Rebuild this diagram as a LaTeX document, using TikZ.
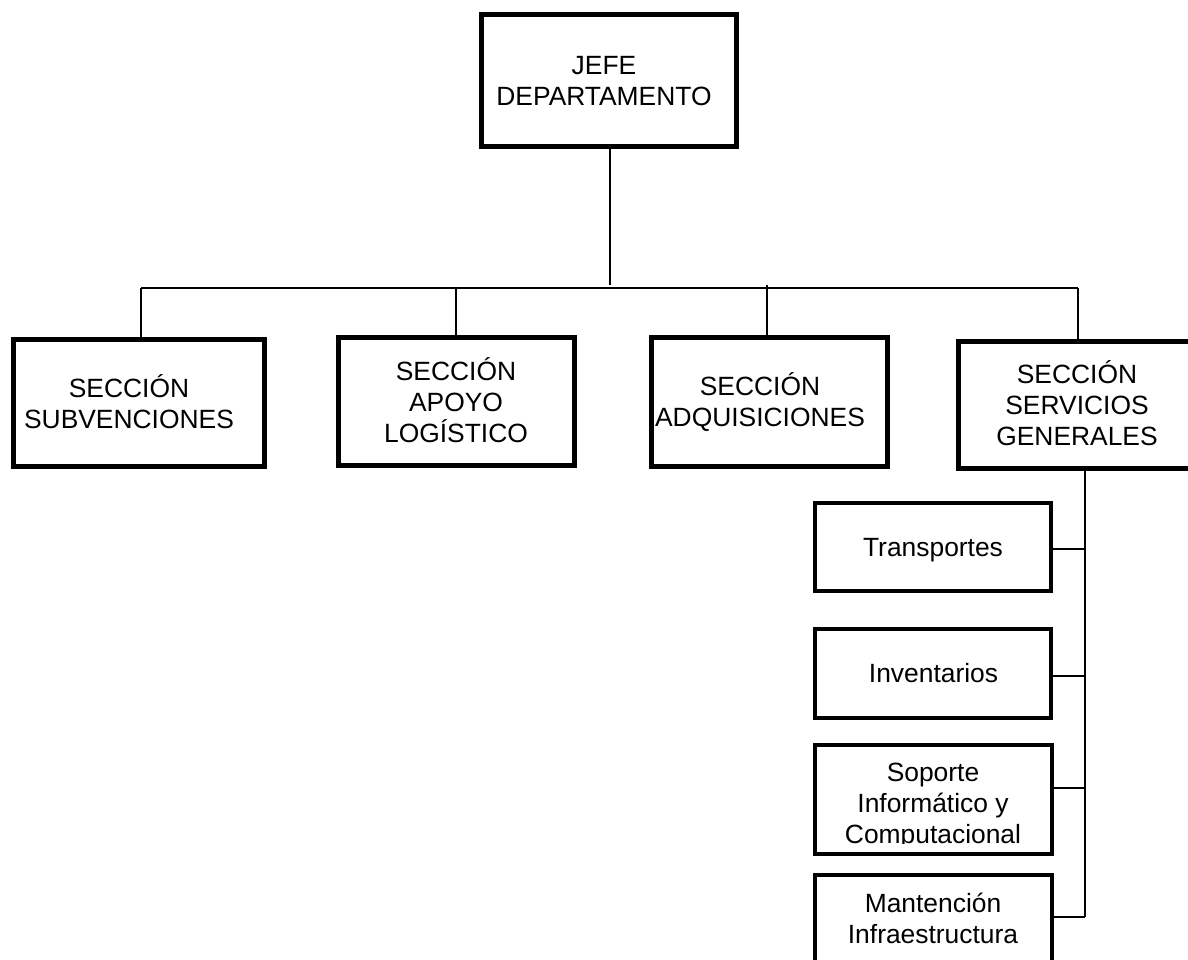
\documentclass[tikz,border=0pt]{standalone}
\usepackage{fontspec}
\setmainfont{Liberation Sans}
\begin{document}
\begin{tikzpicture}[x=1pt,y=-1pt,
 thick box/.style={draw=black,line width=5pt,fill=white,inner sep=0pt},
 sub box/.style={draw=black,line width=4pt,fill=white,inner sep=0pt},
 lbl/.style={align=center,font=\fontsize{26.4}{31}\selectfont,inner sep=0pt},
 conn/.style={draw=black,line width=1.8pt}]
\useasboundingbox (0,0) rectangle (1188,960);
\clip (0,0) rectangle (1188,960);
\node[thick box,minimum width=255pt,minimum height=132pt] (jefe) at (609,80.5) {};
\node[lbl] (jefet) at (604,81) {JEFE\hspace{8pt}\\DEPARTAMENTO};
\node[thick box,minimum width=251.5pt,minimum height=127.5pt] (s1) at (139,403) {};
\node[lbl] (s1t) at (129,401.5) {SECCIÓN\\SUBVENCIONES};
\node[thick box,minimum width=236pt,minimum height=128pt] (s2) at (456,401) {};
\node[lbl] (s2t) at (456,400) {SECCIÓN\\APOYO\\LOGÍSTICO};
\node[thick box,minimum width=236pt,minimum height=129pt] (s3) at (769.5,402) {};
\node[lbl] (s3t) at (760,402.5) {SECCIÓN\\ADQUISICIONES};
\node[thick box,minimum width=260pt,minimum height=127pt] (s4) at (1088,405) {};
\node[lbl] (s4t) at (1077,403) {SECCIÓN\\SERVICIOS\\GENERALES};
\node[sub box,minimum width=236pt,minimum height=88pt] (a) at (933,547) {};
\node[lbl] (at) at (933,550.5) {Transportes};
\node[sub box,minimum width=236pt,minimum height=89pt] (b) at (933,673.5) {};
\node[lbl] (bt) at (933.5,673) {Inventarios};
\node[sub box,minimum width=237pt,minimum height=109pt] (c) at (933.5,799.5) {};
\begin{scope}
\clip (816,748) rectangle (1050,843.5);
\node[lbl] (ct) at (933,806) {Soporte\\Informático y\\Computacional};
\end{scope}
\node[sub box,minimum width=237pt,minimum height=87pt] (d) at (933.5,918) {};
\node[lbl] (dt) at (933,918.5) {Mantención\\Infraestructura};
\coordinate (bus) at (610,285);
\coordinate (l) at (141,288);
\coordinate (r) at (1078,288);
\coordinate (v) at (1085,470);
\draw[conn] (jefe.south -| bus) -- (bus);
\draw[conn] (l) -- (r);
\draw[conn] (l) -- (l |- s1.north);
\draw[conn] (456,288) coordinate (t2) -- (t2 |- s2.north);
\draw[conn] (767,285) coordinate (t3) -- (t3 |- s3.north);
\draw[conn] (r) -- (r |- s4.north);
\draw[conn] (s4.south -| v) -- (1085,917) coordinate (ve);
\draw[conn] (1053,549) coordinate (a1) -- (a1 -| v);
\draw[conn] (1053,676) coordinate (b1) -- (b1 -| v);
\draw[conn] (1053,788) coordinate (c1) -- (c1 -| v);
\draw[conn] (1053,917) coordinate (d1) -- (ve);
\end{tikzpicture}
\end{document}
